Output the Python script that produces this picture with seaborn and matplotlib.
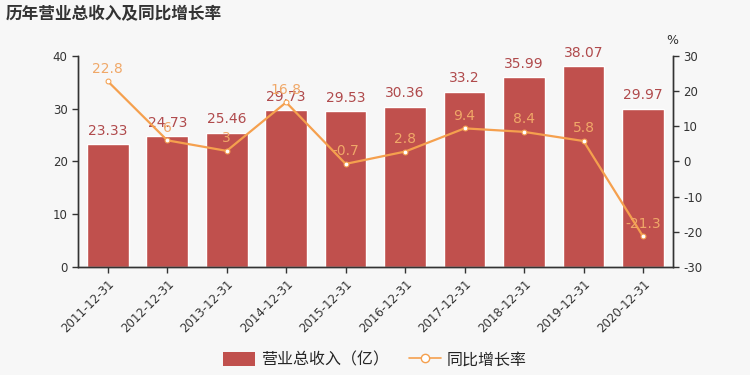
import matplotlib
matplotlib.use('Agg')
import matplotlib.pyplot as plt
from matplotlib.lines import Line2D
from matplotlib.patches import Patch
import numpy as np
import seaborn as sns
import pandas as pd

years = ['2011-12-31', '2012-12-31', '2013-12-31', '2014-12-31', '2015-12-31',
         '2016-12-31', '2017-12-31', '2018-12-31', '2019-12-31', '2020-12-31']
revenue = [23.33, 24.73, 25.46, 29.73, 29.53, 30.36, 33.2, 35.99, 38.07, 29.97]
growth = [22.8, 6, 3, 16.8, -0.7, 2.8, 9.4, 8.4, 5.8, -21.3]

bar_color = '#c0504d'
line_color = '#f5a04e'
bg = '#f7f7f7'

sns.set_style('white')
plt.rcParams['font.family'] = ['DejaVu Sans', 'Noto Sans CJK SC']
plt.rcParams['axes.unicode_minus'] = False

df = pd.DataFrame({'year': years, 'revenue': revenue, 'growth': growth})

fig = plt.figure(figsize=(7.5, 3.75), dpi=100, facecolor=bg)
ax = fig.add_axes([0.104, 0.288, 0.793, 0.563])
ax.set_facecolor(bg)

sns.barplot(data=df, x='year', y='revenue', color=bar_color, saturation=1,
            width=0.7, ax=ax)
ax.set_ylim(0, 40)
ax.set_yticks([0, 10, 20, 30, 40])
ax.set_xlabel('')
ax.set_ylabel('')
ax.set_xlim(-0.5, len(years) - 0.5)

for i, v in enumerate(revenue):
    ax.text(i, v + 1.2, f'{v:g}', ha='center', va='bottom', fontsize=10,
            color='#b04a4c')

ax2 = ax.twinx()
sns.lineplot(x=np.arange(len(years)), y=growth, color=line_color, ax=ax2,
             marker='o', markersize=3.5, markerfacecolor='white',
             markeredgecolor=line_color, linewidth=1.6)
ax2.set_ylim(-30, 30)
ax2.set_yticks(range(-30, 31, 10))
for i, g in enumerate(growth):
    ax2.text(i, g + 1.6, f'{g:g}', ha='center', va='bottom', fontsize=10,
             color='#f0a868')
ax2.text(1.0, 1.04, '%', transform=ax2.transAxes, ha='center', va='bottom',
         fontsize=9, color='#333333')

for a in (ax, ax2):
    a.spines['top'].set_visible(False)
    for s in ('left', 'right', 'bottom'):
        a.spines[s].set_color('#333333')
        a.spines[s].set_linewidth(1)
    a.tick_params(axis='both', length=4, width=1, color='#333333',
                  labelsize=8.5, labelcolor='#333333')
ax.tick_params(axis='y', left=True)
ax.tick_params(axis='x', bottom=True)
ax2.tick_params(axis='y', right=True)
ax.set_xticks(range(len(years)))
ax.set_xticklabels(years, rotation=45, ha='right', rotation_mode='anchor',
                   fontsize=8.5)

fig.text(0.007, 0.962, '历年营业总收入及同比增长率', fontsize=12,
         fontweight='bold', color='#333333', ha='left', va='center',
         family=['Noto Sans CJK SC', 'DejaVu Sans'])

handles = [Patch(facecolor=bar_color, edgecolor='none'),
           Line2D([0], [0], color=line_color, marker='o', markersize=6,
                  markerfacecolor='white', markeredgecolor=line_color,
                  linewidth=1.2)]
fig.legend(handles, ['营业总收入（亿）', '同比增长率'], loc='center',
           bbox_to_anchor=(0.5, 0.04), ncol=2, frameon=False,
           prop={'family': ['Noto Sans CJK SC', 'DejaVu Sans'], 'size': 11.5},
           handlelength=2.0, handleheight=0.9, columnspacing=1.2,
           handletextpad=0.4)

fig.savefig('out.png', dpi=100, facecolor=bg)
